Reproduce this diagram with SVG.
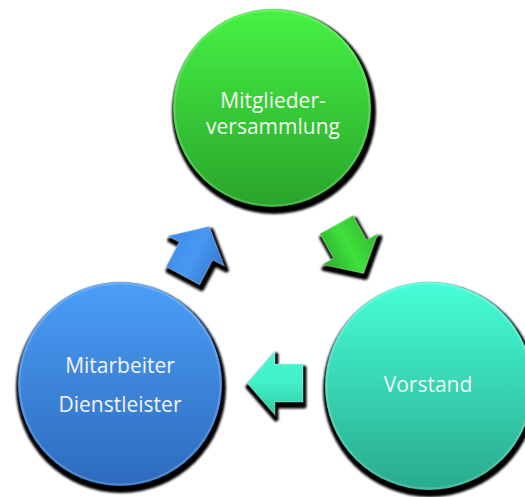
<svg xmlns="http://www.w3.org/2000/svg" width="525" height="497" viewBox="0 0 525 497">
  <defs>
    <linearGradient id="gGreen" x1="0" y1="0" x2="0" y2="1">
      <stop offset="0" stop-color="#46f244"/>
      <stop offset="1" stop-color="#29a42a"/>
    </linearGradient>
    <linearGradient id="gBlue" x1="0" y1="0" x2="0" y2="1">
      <stop offset="0" stop-color="#4b9ef8"/>
      <stop offset="1" stop-color="#2d6bbd"/>
    </linearGradient>
    <linearGradient id="gTeal" x1="0" y1="0" x2="0" y2="1">
      <stop offset="0" stop-color="#46ffd8"/>
      <stop offset="1" stop-color="#29aa8d"/>
    </linearGradient>
    <linearGradient id="aGreen" x1="0" y1="0" x2="0" y2="1">
      <stop offset="0" stop-color="#30b830"/>
      <stop offset="0.5" stop-color="#3fe03c"/>
      <stop offset="1" stop-color="#2aa82a"/>
    </linearGradient>
    <linearGradient id="aBlue" x1="0" y1="0" x2="0" y2="1">
      <stop offset="0" stop-color="#3d8ae8"/>
      <stop offset="0.5" stop-color="#4898f2"/>
      <stop offset="1" stop-color="#3277d0"/>
    </linearGradient>
    <linearGradient id="aTeal" x1="0" y1="0" x2="0" y2="1">
      <stop offset="0" stop-color="#2fc9a5"/>
      <stop offset="0.5" stop-color="#42f0c9"/>
      <stop offset="1" stop-color="#48f7d2"/>
    </linearGradient>
    <filter id="soft" x="-20%" y="-20%" width="140%" height="140%">
      <feGaussianBlur stdDeviation="1"/>
    </filter>
    <path id="arrow" d="M-28,-19 H0 V-32 L28,0 L0,32 V19 H-28 Z"/>
  </defs>
  <style>
    .shadow { fill: #000; filter: url(#soft); }
    .rim { fill: none; stroke: #ffffff; stroke-opacity: 0.18; stroke-width: 2; }
    .lbl { font-family: "Open Sans", "Liberation Sans", sans-serif; font-size: 21px; fill: #f4f4f4; text-anchor: middle; }
    .ashadow { fill: #000; stroke: #000; stroke-width: 5; stroke-linejoin: round; filter: url(#soft); }
    .aedge { fill: none; stroke: #ffffff; stroke-opacity: 0.25; stroke-width: 1.5; stroke-linejoin: miter; }
  </style>

  <g id="node-mitglieder">
    <circle class="shadow" cx="274" cy="112" r="102"/>
    <circle cx="272" cy="108" r="99" fill="url(#gGreen)"/>
    <circle class="rim" cx="272" cy="108" r="97.5"/>
    <text class="lbl" x="273" y="108">Mitglieder-</text>
    <text class="lbl" x="273" y="134">versammlung</text>
  </g>

  <g id="node-mitarbeiter">
    <circle class="shadow" cx="121" cy="388" r="105"/>
    <circle cx="120" cy="384" r="102" fill="url(#gBlue)"/>
    <circle class="rim" cx="120" cy="384" r="100.5"/>
    <text class="lbl" x="120" y="373">Mitarbeiter</text>
    <text class="lbl" x="120" y="412">Dienstleister</text>
  </g>

  <g id="node-vorstand">
    <circle class="shadow" cx="430" cy="390" r="107"/>
    <circle cx="429" cy="386" r="104" fill="url(#gTeal)"/>
    <circle class="rim" cx="429" cy="386" r="102.5"/>
    <text class="lbl" x="428" y="392">Vorstand</text>
  </g>

  <g id="connectors">
    <g transform="translate(198,255) rotate(-62)">
      <use href="#arrow" class="ashadow"/>
    </g>
    <g transform="translate(196,251) rotate(-62)">
      <use href="#arrow" fill="url(#aBlue)"/>
      <use href="#arrow" class="aedge"/>
    </g>
    <g transform="translate(352,253) rotate(61)">
      <use href="#arrow" class="ashadow"/>
    </g>
    <g transform="translate(350,249) rotate(61)">
      <use href="#arrow" fill="url(#aGreen)"/>
      <use href="#arrow" class="aedge"/>
    </g>
    <g transform="translate(276,387) rotate(180)">
      <use href="#arrow" class="ashadow"/>
    </g>
    <g transform="translate(275,383) rotate(180)">
      <use href="#arrow" fill="url(#aTeal)"/>
      <use href="#arrow" class="aedge"/>
    </g>
  </g>
</svg>
